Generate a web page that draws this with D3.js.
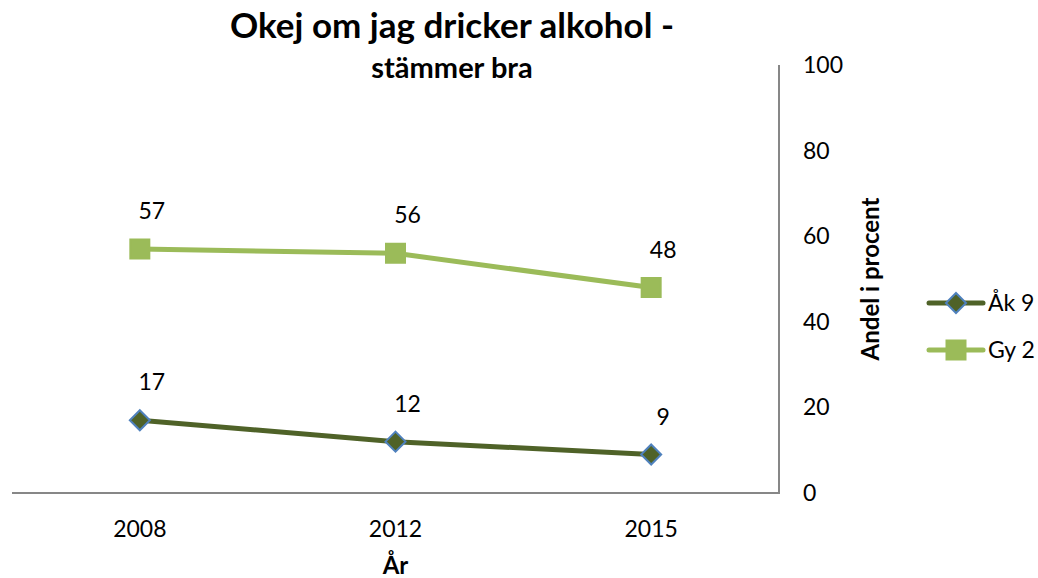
<!DOCTYPE html>
<html lang="sv">
<head>
<meta charset="UTF-8">
<title>Okej om jag dricker alkohol</title>
<style>
  body { margin: 0; background: #fff; font-family: Lato, "Open Sans", sans-serif; }
  text { fill: #000; }
</style>
</head>
<body>
<script src="https://cdn.jsdelivr.net/npm/d3@7"></script>
<script>
var years = ["2008", "2012", "2015"];
var ak9 = [17, 12, 9];
var gy2 = [57, 56, 48];
var yTicks = [0, 20, 40, 60, 80, 100];

var width = 1038, height = 578;
var plotLeft = 12, plotRight = 779, plotTop = 65, plotBottom = 493;

var series = [
  {name: "Åk 9", values: ak9, color: "#4f6228", stroke: "#4f81bd", diamond: true},
  {name: "Gy 2", values: gy2, color: "#9bbb59", stroke: "#9bbb59", diamond: false}
];

var svg = d3.select("body").append("svg")
    .attr("width", width)
    .attr("height", height);

var x = d3.scaleBand().domain(years).range([plotLeft, plotRight]);
var y = d3.scaleLinear().domain([0, 100]).range([plotBottom, plotTop]);
var cx = function(yr) { return x(yr) + x.bandwidth() / 2; };

// axes
svg.append("line")
    .attr("x1", plotLeft).attr("x2", plotRight)
    .attr("y1", y(0)).attr("y2", y(0))
    .attr("stroke", "#878787").attr("stroke-width", 2);
svg.append("line")
    .attr("x1", plotRight).attr("x2", plotRight)
    .attr("y1", y(0) + 1).attr("y2", y(100))
    .attr("stroke", "#878787").attr("stroke-width", 2);

svg.selectAll(".ytick").data(yTicks).enter().append("text")
    .attr("class", "ytick")
    .attr("x", 803)
    .attr("y", function(d) { return y(d); })
    .attr("dy", "0.35em")
    .attr("font-size", 23)
    .text(function(d) { return d; });

svg.selectAll(".xtick").data(years).enter().append("text")
    .attr("class", "xtick")
    .attr("x", function(d) { return cx(d); })
    .attr("y", 537)
    .attr("text-anchor", "middle")
    .attr("font-size", 23)
    .text(function(d) { return d; });

svg.append("text")
    .attr("x", cx("2012"))
    .attr("y", 574)
    .attr("text-anchor", "middle")
    .attr("font-size", 24)
    .attr("font-weight", "bold")
    .text("År");

svg.append("text")
    .attr("transform", "translate(879,279)rotate(-90)")
    .attr("text-anchor", "middle")
    .attr("font-size", 24)
    .attr("font-weight", "bold")
    .text("Andel i procent");

// title
svg.append("text")
    .attr("x", 452).attr("y", 38)
    .attr("text-anchor", "middle")
    .attr("font-size", 35)
    .attr("font-weight", "bold")
    .text("Okej om jag dricker alkohol -");
svg.append("text")
    .attr("x", 452).attr("y", 78)
    .attr("text-anchor", "middle")
    .attr("font-size", 29)
    .attr("font-weight", "bold")
    .text("stämmer bra");

var line = d3.line()
    .x(function(d, i) { return cx(years[i]); })
    .y(function(d) { return y(d); });

function marker(s) {
  return s.diamond ? "M0,-10L10,0L0,10L-10,0Z" : "M-9.5,-9.5H9.5V9.5H-9.5Z";
}

series.forEach(function(s) {
  var g = svg.append("g");
  g.append("path")
      .attr("d", line(s.values))
      .attr("fill", "none")
      .attr("stroke", s.color)
      .attr("stroke-width", 5);
  g.selectAll("path.m").data(s.values).enter().append("path")
      .attr("class", "m")
      .attr("d", marker(s))
      .attr("transform", function(d, i) { return "translate(" + cx(years[i]) + "," + y(d) + ")"; })
      .attr("fill", s.color)
      .attr("stroke", s.stroke)
      .attr("stroke-width", 2);
  g.selectAll("text").data(s.values).enter().append("text")
      .attr("x", function(d, i) { return cx(years[i]) + 12; })
      .attr("y", function(d) { return y(d) - 38; })
      .attr("dy", "0.35em")
      .attr("text-anchor", "middle")
      .attr("font-size", 23)
      .text(function(d) { return d; });
});

// legend
var legend = svg.selectAll(".legend").data(series).enter().append("g")
    .attr("class", "legend")
    .attr("transform", function(d, i) { return "translate(929," + (303 + i * 47) + ")"; });
legend.append("line")
    .attr("x1", 0).attr("x2", 54)
    .attr("stroke", function(d) { return d.color; })
    .attr("stroke-width", 5)
    .attr("stroke-linecap", "round");
legend.append("path")
    .attr("d", marker)
    .attr("transform", "translate(27,0)")
    .attr("fill", function(d) { return d.color; })
    .attr("stroke", function(d) { return d.stroke; })
    .attr("stroke-width", 2);
legend.append("text")
    .attr("x", 59)
    .attr("dy", "0.35em")
    .attr("font-size", 23)
    .text(function(d) { return d.name; });
</script>
</body>
</html>
